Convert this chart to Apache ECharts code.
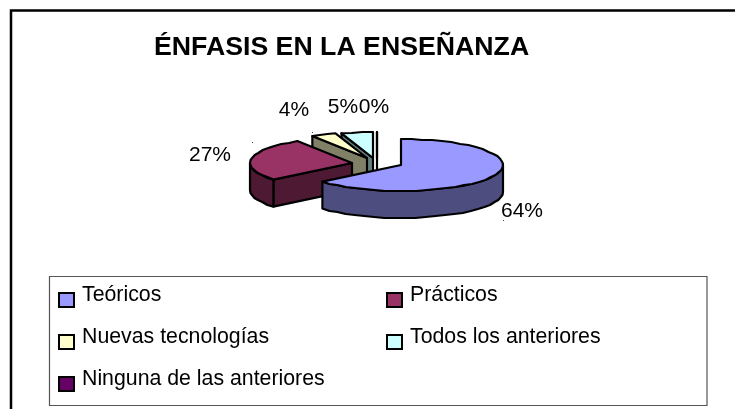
<!DOCTYPE html>
<html><head><meta charset="utf-8">
<style>html,body{margin:0;padding:0;background:#fff}#c{width:735px;height:409px}</style>
<script src="https://cdn.jsdelivr.net/npm/echarts@6/dist/echarts.min.js"></script>
</head><body><div id="c"></div>
<script>
const categories = ['Teóricos','Prácticos','Nuevas tecnologías','Todos los anteriores','Ninguna de las anteriores'];
const values = [64,27,4,5,0];
const colors = ['#9999FF','#993366','#FFFFCC','#CCFFFF','#660066'];
const sideColors = ['#4D4D80','#4D1933','#808066','#668080','#330033'];
const titleText = 'ÉNFASIS EN LA ENSEÑANZA';

// Drawing parameters of the tilted pie
const pie = {cx:401, cy:165, rx:102, ry:26, depth:27};
const explode = [[0,0],[-49,-2],[-34,-7],[-28,-7],[-24,-7]];
const labelAt = [[522,211],[210,155],[294,110],[343,107],[374,107]];
const legendAt = [[58,285],[386,285],[58,327],[386,327],[58,369]];
const leaderDots = [[503,220],[252,142],[312,132],[325,166]];

const total = values.reduce((a,b)=>a+b,0);
const starts = []; let acc = 0;
values.forEach(v=>{starts.push(acc/total*Math.PI*2); acc+=v;});
const FONT = 'Liberation Sans';

function arcPts(cx,cy,a0,a1,dy){
  const n = Math.max(1,Math.ceil((a1-a0)/(Math.PI/30))), p=[];
  for(let i=0;i<=n;i++){const a=a0+(a1-a0)*i/n;
    // whole-pixel vertices, as in the low-resolution original outline
    const y=cy-pie.ry*Math.cos(a)+dy;
    p.push([cx+pie.rx*Math.sin(a), (i===0||i===n)?y:Math.round(y)]);}
  return p;
}
function renderSlice(idx){
  return function(params, api){
    const v = api.value(0);
    const a0 = starts[idx], a1 = a0 + v/total*Math.PI*2;
    const cx = pie.cx+explode[idx][0], cy = pie.cy+explode[idx][1], d = pie.depth;
    const stroke = {stroke:'#000', lineWidth:2.2, lineJoin:'round'};
    const kids = [];
    const poly = (points,fill)=>kids.push({type:'polygon',shape:{points},style:Object.assign({fill},stroke)});
    const side = sideColors[idx], top = colors[idx];
    const A=[cx,cy], P0=[cx+pie.rx*Math.sin(a0),cy-pie.ry*Math.cos(a0)], P1=[cx+pie.rx*Math.sin(a1),cy-pie.ry*Math.cos(a1)];
    const dn = p=>[p[0],p[1]+d];
    // radial cut faces that look towards the viewer
    if(Math.sin(a0)<0) poly([A,P0,dn(P0),dn(A)],side);
    if(Math.sin(a1)>0) poly([A,P1,dn(P1),dn(A)],side);
    // outer wall, front half only
    const f0=Math.max(a0,Math.PI/2), f1=Math.min(a1,Math.PI*1.5);
    if(f1>f0){
      const up=arcPts(cx,cy,f0,f1,0), lo=arcPts(cx,cy,f0,f1,d).reverse();
      poly(up.concat(lo),side);
    }
    // top face
    poly([A].concat(arcPts(cx,cy,a0,a1,0)),top);
    kids.push({type:'text',style:{text:v+'%',x:labelAt[idx][0],y:labelAt[idx][1],align:'center',verticalAlign:'middle',
      font:'21px "'+FONT+'"',fill:'#000'},z2:100});
    return {type:'group',children:kids};
  };
}
// draw back slices first
const drawOrder = [4,3,2,1,0];
const series = categories.map((name,i)=>({
  type:'custom', name, coordinateSystem:'none',
  z: 2+drawOrder.indexOf(i),
  data:[[values[i]]],
  itemStyle:{color:colors[i]},
  renderItem:renderSlice(i), silent:true
}));
const legend = categories.map((name,i)=>({
  data:[{name,icon:'rect'}], left:legendAt[i][0], top:legendAt[i][1], orient:'horizontal',
  padding:0, itemWidth:15, itemHeight:14, itemGap:0, selectedMode:false,
  itemStyle:{borderColor:'#000',borderWidth:2},
  formatter:n=>'{t|'+n+'}',
  textStyle:{rich:{t:{fontFamily:FONT,fontSize:21.3,color:'#000',padding:[0,0,9,3]}}}
}));
const chart = echarts.init(document.getElementById('c'),null,{renderer:'canvas'});
chart.setOption({
  animation:false, backgroundColor:'#fff',
  title:{text:titleText,left:154,top:34,padding:0,textStyle:{fontFamily:FONT,fontWeight:'bold',fontSize:26.7,color:'#000'}},
  legend, series,
  graphic:[
    {type:'polyline',z:-1,shape:{points:[[11,409],[11,10.5],[735,10.5]]},style:{fill:null,stroke:'#000',lineWidth:2.5}},
    {type:'rect',z:-1,shape:{x:49.5,y:276.5,width:657.5,height:129},style:{fill:'#fff',stroke:'#555',lineWidth:1.2}}
  ].concat(leaderDots.map(p=>({type:'rect',z:20,shape:{x:p[0],y:p[1],width:1,height:1},style:{fill:'#444'}})))
});
</script></body></html>
